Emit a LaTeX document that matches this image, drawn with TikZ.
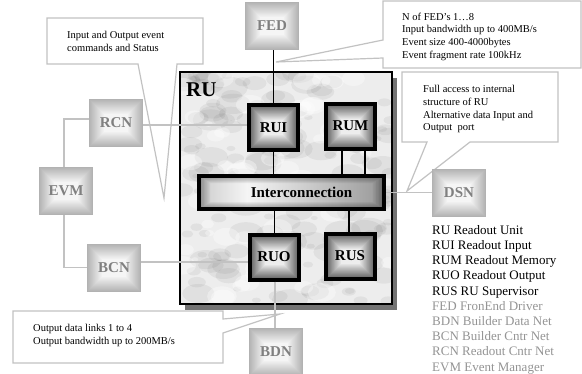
\documentclass[tikz,border=0pt]{standalone}
\usepackage{fontspec}
\setmainfont{Liberation Serif}
\definecolor{bevdark}{gray}{0.70}
\definecolor{bevlight}{gray}{0.96}
\definecolor{labelgray}{gray}{0.50}
\definecolor{linegray}{gray}{0.76}
\definecolor{dkedge}{gray}{0.38}
\definecolor{dkcenter}{gray}{0.93}
\definecolor{legendgray}{gray}{0.58}
\pgfdeclarehorizontalshading{interh}{100bp}{color(0bp)=(black!50); color(38bp)=(black!4); color(100bp)=(black!65)}
\tikzset{
  bevelfill/.style 2 args={path picture={
     \foreach \i in {0,...,15}{
        \pgfmathtruncatemacro\p{\i*100/15}
        \fill[#2!\p!#1] ([shift={(\i*1pt,-\i*1pt)}]path picture bounding box.north west) rectangle ([shift={(-\i*1pt,\i*1pt)}]path picture bounding box.south east);
     }}},
  graybox/.style={rectangle, minimum width=54pt, minimum height=48pt, inner sep=0pt,
     bevelfill={bevdark}{bevlight}, text=labelgray, font=\bfseries\fontsize{15}{15}\selectfont},
  darkbox/.style={rectangle, draw=black, line width=4pt, minimum width=49pt, minimum height=45pt, inner sep=0pt,
     bevelfill={dkedge}{dkcenter}, text=black, font=\bfseries\fontsize{15}{15}\selectfont},
  interbox/.style={rectangle, draw=black, line width=4pt, minimum width=185pt, minimum height=33pt, inner sep=0pt,
     text=black, font=\bfseries\fontsize{15}{15}\selectfont,
     path picture={
       \shade[shading=interh] (path picture bounding box.north west) rectangle (path picture bounding box.south east);
       \foreach \i in {1,...,7}{
         \fill[black, opacity=0.05, even odd rule] (path picture bounding box.north west) rectangle (path picture bounding box.south east)
           ([shift={(\i*1.6pt,-\i*1pt)}]path picture bounding box.north west) rectangle ([shift={(-\i*1.6pt,\i*1pt)}]path picture bounding box.south east);
       }}},
  callout/.style={draw=linegray, line width=1.2pt, fill=white, line join=miter},
  callouttext/.style={anchor=north west, inner sep=0pt, align=left, font=\fontsize{10.5}{12.8}\selectfont},
  darkline/.style={draw=black, line width=1.5pt},
  grayline/.style={draw=linegray, line width=1.5pt},
  legendtext/.style={anchor=north west, inner sep=0pt, align=left, font=\fontsize{13}{15.2}\selectfont},
}
\begin{document}
\begin{tikzpicture}[x=1pt,y=-1pt]
\useasboundingbox (0,0) rectangle (582,373);
\fill[white] (0,0) rectangle (582,373);

% callouts
\draw[callout] (47,18) -- (203,18) -- (203,64) -- (177,64) -- (164,198) -- (138,64) -- (47,64) -- cycle;
\draw[callout] (383,1) -- (581,1) -- (581,68) -- (383,68) -- (383,58) -- (276,62) -- (383,40) -- cycle;
\draw[callout] (402,72) -- (558,72) -- (558,142) -- (470,142) -- (407,191) -- (427,142) -- (402,142) -- cycle;
\draw[callout] (13,311) -- (223,311) -- (223,319) -- (280,314) -- (223,333) -- (223,363) -- (13,363) -- cycle;

\node[callouttext] (c1) at (67,31) {Input and Output event\\commands and Status};
\node[callouttext] (c2) at (402,12.5) {N of FED’s 1…8\\Input bandwidth up to 400MB/s\\Event size 400-4000bytes\\Event fragment rate 100kHz};
\node[callouttext] (c3) at (423,85) {Full access to internal\\structure of RU\\Alternative data Input and\\Output\ \ port};
\node[callouttext] (c4) at (33,324) {Output data links 1 to 4\\Output bandwidth up to 200MB/s};

% RU box with shadow and marble
\fill[black!55] (185,78) rectangle (397,310);
\begin{scope}
  \clip (180,72) rectangle (392,304);
  \fill[black!7] (180,72) rectangle (392,304);
  \pgfmathsetseed{42}
  \foreach \i in {1,...,160}{
    \pgfmathsetmacro\mx{180+rnd*212}
    \pgfmathsetmacro\my{72+rnd*232}
    \pgfmathsetmacro\mr{2+rnd*9}
    \fill[black, opacity=0.05] (\mx,\my) ellipse [x radius={\mr*1.7pt}, y radius={\mr*1pt}];
  }
  \foreach \i in {1,...,60}{
    \pgfmathsetmacro\mx{180+rnd*212}
    \pgfmathsetmacro\my{72+rnd*232}
    \pgfmathsetmacro\mr{2+rnd*8}
    \fill[white, opacity=0.35] (\mx,\my) ellipse [x radius={\mr*1.5pt}, y radius={\mr*1pt}];
  }
\end{scope}
\draw[black, line width=1.6pt] (180,72) rectangle (392,304);
\node[anchor=base west, inner sep=0pt, font=\bfseries\fontsize{21}{21}\selectfont] (rulabel) at (186,96.5) {RU};

% nodes
\node[graybox] (FED) at (272,26) {FED};
\node[graybox] (RCN) at (116,123) {RCN};
\node[graybox] (EVM) at (66,191) {EVM};
\node[graybox] (BCN) at (114,267.5) {BCN};
\node[graybox] (DSN) at (459,192.5) {DSN};
\node[graybox] (BDN) at (276,352) {BDN};

\node[interbox] (INT) at (291.5,192.5) {\hspace*{20pt}Interconnection};

% connectors (drawn before dark boxes so they tuck under borders)
\draw[darkline] (FED.south -| 273.5,0) -- (273.5,105);
\draw[darkline] (273.5,150) -- (273.5,176);
\draw[darkline] (342,145) -- (342,176);
\draw[darkline] (365,145) -- (365,176);
\draw[darkline] (274.5,209) -- (274.5,235);
\draw[darkline] (349,209) -- (349,234);

\node[darkbox] (RUI) at (273.5,127.5) {RUI};
\node[darkbox] (RUM) at (350.5,126) {RUM};
\node[darkbox] (RUO) at (274,257) {RUO};
\node[darkbox] (RUS) at (350,256) {RUS};

\draw[grayline] ([yshift=-2pt]RCN.east) -- ([yshift=-2pt]RCN.east -| RUI.west);
\draw[grayline] ([yshift=4pt]RCN.west) -| ([xshift=-2pt]EVM.north);
\draw[grayline] ([xshift=-2pt]EVM.south) |- (BCN.west);
\draw[grayline] ([yshift=5.5pt]BCN.east) -- ([yshift=5.5pt]BCN.east -| RUO.west);
\draw[grayline] ([xshift=1pt]RUO.south) -- ([xshift=1pt]RUO.south |- BDN.north);
\draw[grayline] (INT.east) -- (DSN.west);

% legend
\node[legendtext] (legend) at (432,225) {RU Readout Unit\\RUI Readout Input\\RUM Readout Memory\\RUO Readout Output\\RUS RU Supervisor\\
\textcolor{legendgray}{FED FronEnd Driver}\\\textcolor{legendgray}{BDN Builder Data Net}\\\textcolor{legendgray}{BCN Builder Cntr Net}\\\textcolor{legendgray}{RCN Readout Cntr Net}\\\textcolor{legendgray}{EVM Event Manager}};
\end{tikzpicture}
\end{document}
